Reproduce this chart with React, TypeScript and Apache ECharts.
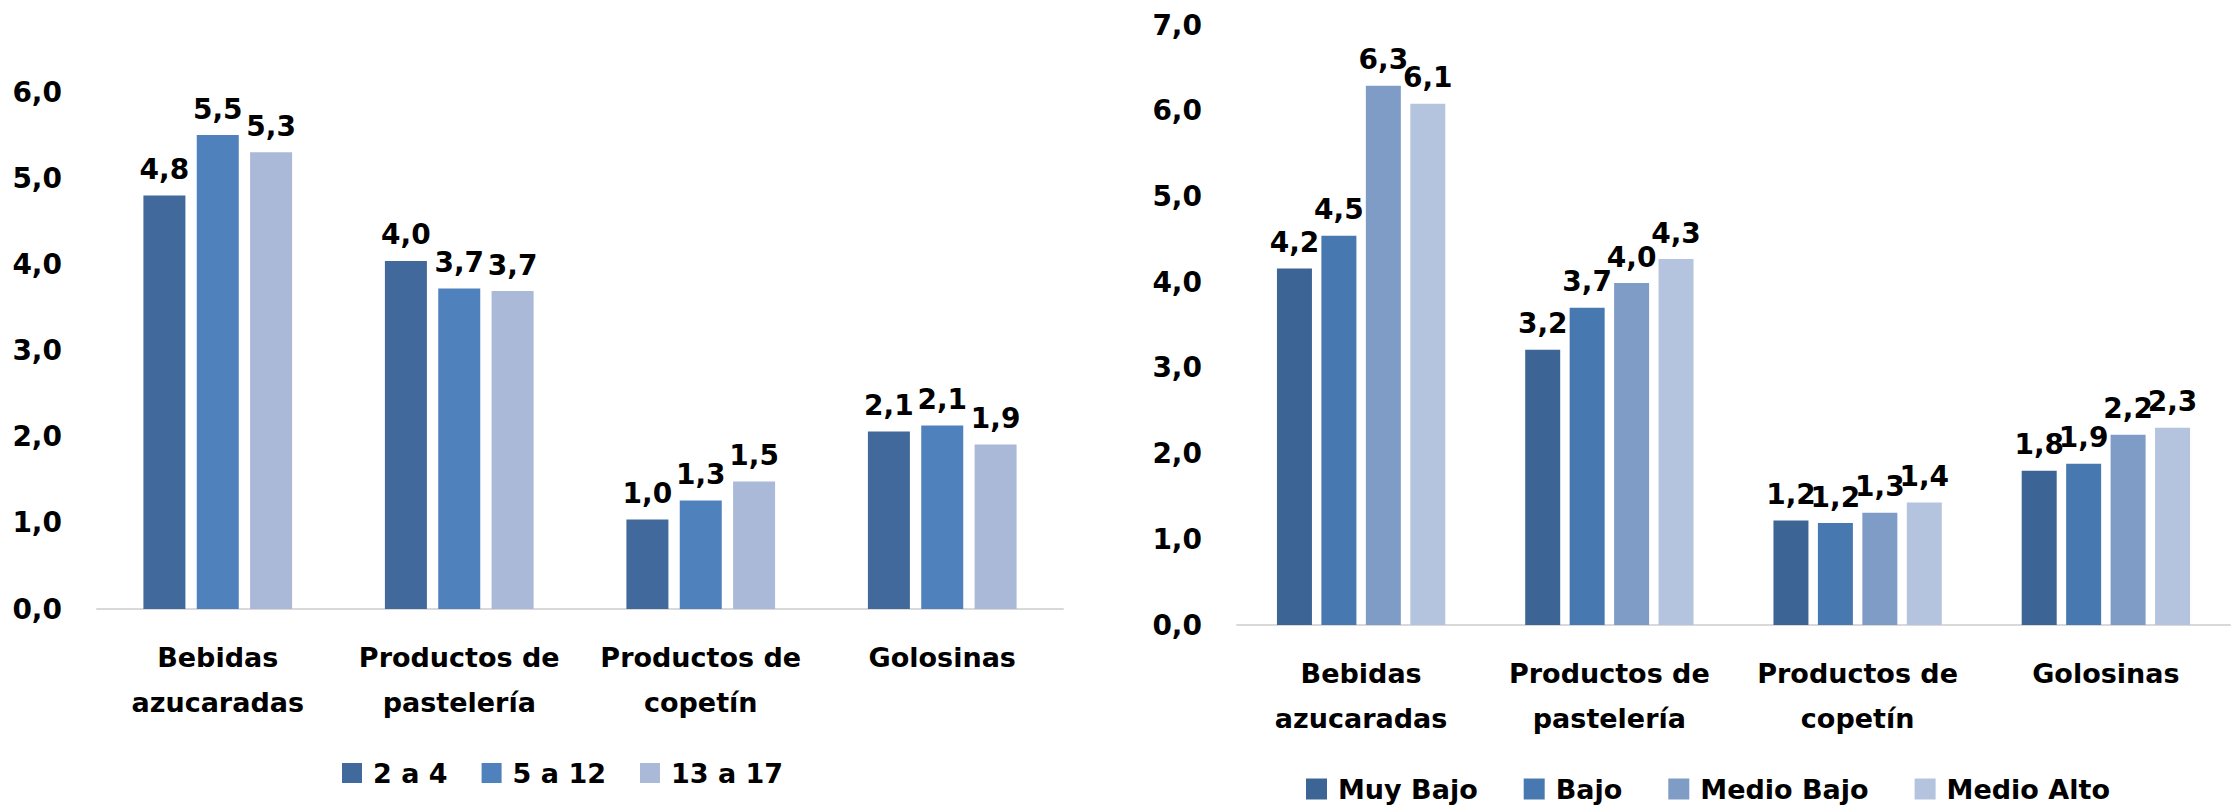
import React, { useEffect, useRef } from "react";
import * as echarts from "echarts";

const categories = ["Bebidas\nazucaradas", "Productos de\npastelería", "Productos de\ncopetín", "Golosinas"];

// Left chart: age groups
const leftNames = ["2 a 4", "5 a 12", "13 a 17"];
const age2a4 = [4.8, 4.04, 1.04, 2.06];
const age5a12 = [5.5, 3.72, 1.26, 2.13];
const age13a17 = [5.3, 3.69, 1.48, 1.91];
const leftColors = ["#41699B", "#4F81BD", "#AAB9D7"];

// Right chart: socioeconomic level
const rightNames = ["Muy Bajo", "Bajo", "Medio Bajo", "Medio Alto"];
const muyBajo = [4.16, 3.21, 1.22, 1.8];
const bajo = [4.54, 3.7, 1.19, 1.88];
const medioBajo = [6.29, 3.99, 1.31, 2.22];
const medioAlto = [6.08, 4.27, 1.43, 2.3];
const rightColors = ["#3C6595", "#4878B0", "#7F9CC7", "#B4C4DF"];

const FONT = "DejaVu Sans";
const fmt = (v: number) => v.toFixed(1).replace(".", ",");

export default function App() {
  const ref = useRef<HTMLDivElement>(null);
  useEffect(() => {
    if (!ref.current) return;
    const chart = echarts.init(ref.current, undefined, { renderer: "svg" });
    const leftData = [age2a4, age5a12, age13a17];
    const rightData = [muyBajo, bajo, medioBajo, medioAlto];
    const labelCfg = {
      show: true,
      position: "top" as const,
      distance: 12,
      fontFamily: FONT,
      fontWeight: "bold" as const,
      fontSize: 28,
      color: "#000",
      formatter: (p: any) => fmt(p.value),
    };
    const series: any[] = [];
    leftNames.forEach((n, i) => {
      series.push({
        type: "bar",
        name: n,
        xAxisIndex: 0,
        yAxisIndex: 0,
        data: leftData[i],
        barWidth: 42,
        barGap: "27%",
        itemStyle: { color: leftColors[i] },
        label: labelCfg,
      });
    });
    rightNames.forEach((n, i) => {
      series.push({
        type: "bar",
        name: n,
        xAxisIndex: 1,
        yAxisIndex: 1,
        data: rightData[i],
        barWidth: 35,
        barGap: "27%",
        itemStyle: { color: rightColors[i] },
        label: labelCfg,
      });
    });
    const xAxisBase = {
      type: "category" as const,
      data: categories,
      axisTick: { show: false },
      axisLine: { show: true, lineStyle: { color: "#D9D9D9", width: 2 } },
      axisLabel: {
        fontFamily: FONT,
        fontWeight: "bold" as const,
        fontSize: 27,
        lineHeight: 45,
        color: "#000",
        margin: 26,
        interval: 0,
      },
    };
    const yAxisBase = {
      type: "value" as const,
      min: 0,
      interval: 1,
      splitLine: { show: false },
      axisLine: { show: false },
      axisTick: { show: false },
      axisLabel: {
        fontFamily: FONT,
        fontWeight: "bold" as const,
        fontSize: 28,
        color: "#000",
        margin: 35,
        formatter: (v: number) => fmt(v),
      },
    };
    const legendText = {
      fontFamily: FONT,
      fontWeight: "bold" as const,
      fontSize: 27,
      lineHeight: 28,
      color: "#000",
      padding: [0, 0, 0, 6],
    };
    chart.setOption({
      animation: false,
      backgroundColor: "#fff",
      grid: [
        { left: 97, top: 92, width: 966, bottom: 198, containLabel: false },
        { left: 1237, top: 25, width: 993, bottom: 182, containLabel: false },
      ],
      xAxis: [
        { ...xAxisBase, gridIndex: 0 },
        { ...xAxisBase, gridIndex: 1 },
      ],
      yAxis: [
        { ...yAxisBase, gridIndex: 0, max: 6 },
        { ...yAxisBase, gridIndex: 1, max: 7 },
      ],
      legend: [
        {
          data: leftNames,
          left: 337,
          top: 754,
          icon: "rect",
          itemWidth: 20,
          itemHeight: 20,
          itemGap: 34,
          textStyle: legendText,
          selectedMode: false,
        },
        {
          data: rightNames,
          left: 1301,
          top: 770,
          icon: "rect",
          itemWidth: 21,
          itemHeight: 21,
          itemGap: 46,
          textStyle: legendText,
          selectedMode: false,
        },
      ],
      series,
    });
    return () => chart.dispose();
  }, []);
  return (
    <div
      ref={ref}
      style={{ position: "absolute", left: 0, top: 0, width: 2234, height: 807, background: "#fff" }}
    />
  );
}
